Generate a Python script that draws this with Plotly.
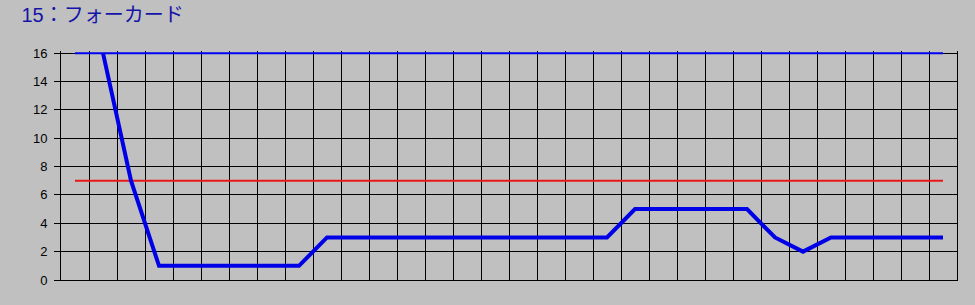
import plotly.graph_objects as go

n_points = 32
x_idx = list(range(n_points))
values = [None, 16, 7, 1, 1, 1, 1, 1, 1, 3, 3, 3, 3, 3, 3, 3, 3, 3, 3, 3,
          5, 5, 5, 5, 5, 3, 2, 3, 3, 3, 3, 3]
upper_limit = [16] * n_points
mean_line = [7] * n_points
y_ticks = [0, 2, 4, 6, 8, 10, 12, 14, 16]
title_text = "15：フォーカード"

fig = go.Figure()
fig.add_trace(go.Scatter(x=x_idx, y=upper_limit, mode="lines",
                         line=dict(color="#0000F0", width=2), hoverinfo="skip"))
fig.add_trace(go.Scatter(x=x_idx, y=mean_line, mode="lines",
                         line=dict(color="#E81818", width=2), hoverinfo="skip"))
fig.add_trace(go.Scatter(x=x_idx, y=values, mode="lines",
                         line=dict(color="#0000E6", width=4), connectgaps=False))

fig.update_layout(
    width=975, height=305,
    margin=dict(l=61, r=18, t=51, b=25),
    paper_bgcolor="#C0C0C0", plot_bgcolor="#C0C0C0",
    showlegend=False,
    font=dict(family="Liberation Sans, Arial, sans-serif", color="black", size=13),
    title=dict(text=title_text, x=0.022, xanchor="left", y=0.95, yanchor="middle",
               font=dict(family="Liberation Sans, Noto Sans CJK JP, sans-serif",
                         size=20, color="#1414A8")),
    xaxis=dict(range=[-0.5, n_points - 0.5], tick0=0.5, dtick=1,
               showgrid=True, gridcolor="black", gridwidth=1,
               showticklabels=False, ticks="", zeroline=False,
               showline=True, linecolor="black", linewidth=1, mirror=False,
               layer="below traces", fixedrange=True),
    yaxis=dict(range=[0, 16.15], tickvals=y_ticks, ticktext=[str(v) for v in y_ticks],
               showgrid=True, gridcolor="black", gridwidth=1,
               ticks="outside", ticklen=6, tickcolor="black",
               ticklabelstandoff=4,
               zeroline=False, showline=True, linecolor="black", linewidth=1,
               mirror=True, layer="below traces", fixedrange=True),
)

fig.write_html("out.html")
